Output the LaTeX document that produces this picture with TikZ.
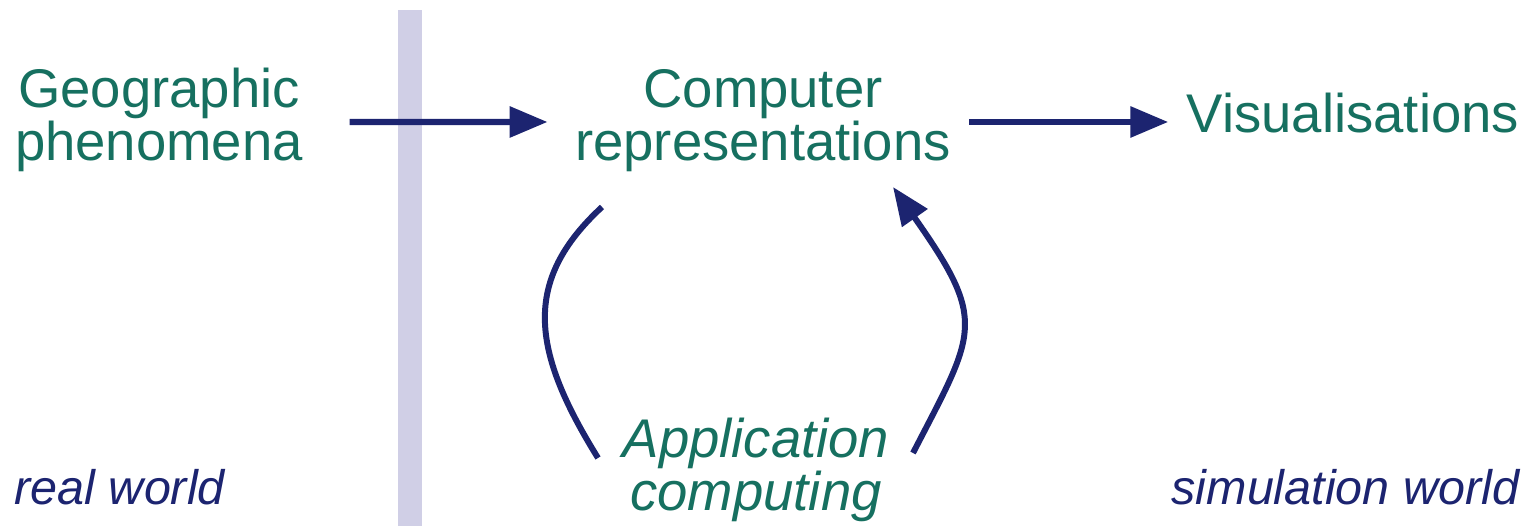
\documentclass[tikz,border=0pt]{standalone}
\usepackage{fontspec}
\setmainfont{Liberation Sans}
\usetikzlibrary{arrows.meta,calc}
\definecolor{teal}{RGB}{22,112,96}
\definecolor{navy}{RGB}{28,36,112}
\definecolor{band}{RGB}{208,207,230}
\tikzstyle{term}=[align=center, inner sep=0pt, text=teal, font=\fontsize{15.5}{15}\selectfont]
\tikzstyle{world}=[inner sep=0pt, text=navy, font=\fontsize{13.8}{14}\selectfont\itshape]
\tikzstyle{flow}=[draw=navy, line width=1.8pt, -{Triangle[length=0.38cm,width=0.3cm]}]
\tikzstyle{cycle}=[draw=navy, line width=1.7pt]
\begin{document}
\begin{tikzpicture}
	\useasboundingbox[fill=white] (0,0) rectangle (15.33,5.26);
	% divide between the two worlds
	\fill[band] (3.98,0) rectangle (4.22,5.16);

	\node[term](geo) at (1.59,4.06){Geographic\\phenomena};
	\node[term](comp) at (7.63,4.05){Computer\\representations};
	\node[term, anchor=base](vis) at (13.53,3.93){Visualisations};
	\node[term, font=\fontsize{15.5}{15}\selectfont\itshape](app) at (7.56,0.56){Application\\computing};

	\node[world, anchor=base west](real) at (0.14,0.21){real world};
	\node[world, anchor=base east](sim) at (15.20,0.21){simulation world};

	\draw[flow] ([xshift=0.46cm,yshift=-0.02cm]geo.east) -- ([xshift=-0.27cm,yshift=-0.01cm]comp.west);
	\draw[flow] ([xshift=0.18cm,yshift=-0.01cm]comp.east) -- ([xshift=-0.18cm,yshift=-0.01cm]comp.east -| vis.west);

	\draw[cycle] ($(comp.center)+(-1.61,-0.86)$) .. controls +(-0.80,-0.74) and +(-0.67,1.08) .. ($(app.center)+(-1.58,0.12)$);
	\draw[flow, line width=1.7pt] ($(app.center)+(1.57,0.17)$) .. controls +(0.63,1.22) and +(0.95,-1.35) .. ($(comp.center)+(1.30,-0.66)$);
\end{tikzpicture}
\end{document}
